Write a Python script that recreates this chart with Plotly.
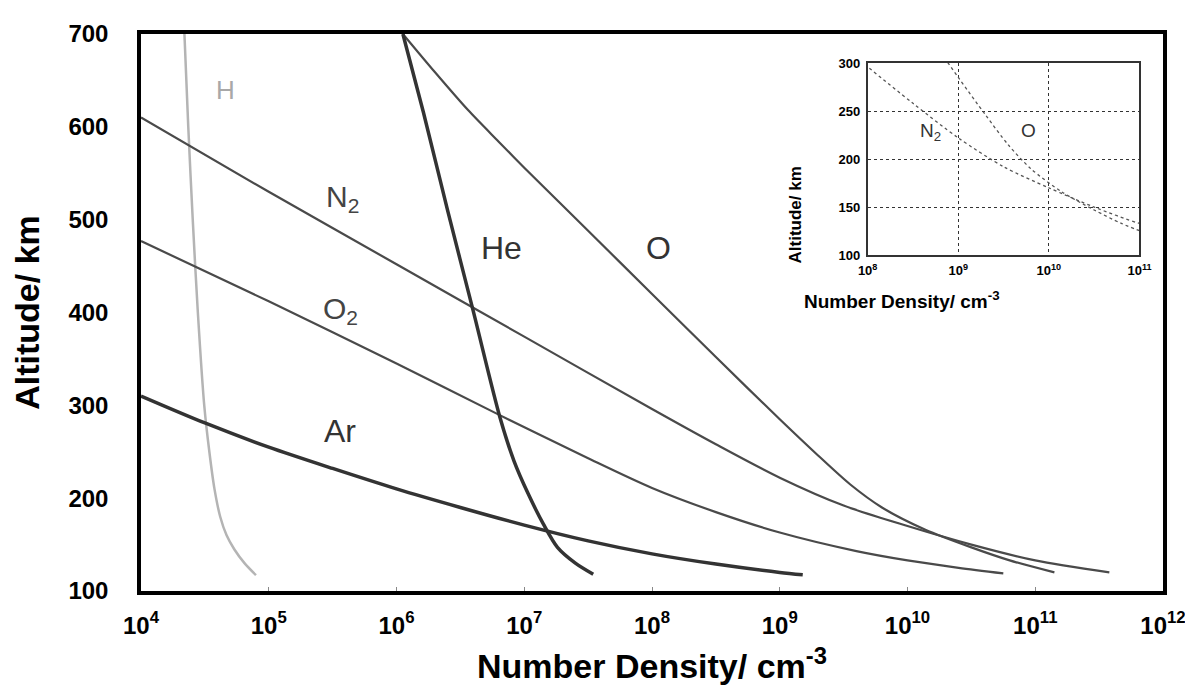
import plotly.graph_objects as go

# ---- data (log10 number density, altitude km) ----
h_logn = [4.34, 4.37, 4.405, 4.445, 4.495, 4.535, 4.575, 4.62, 4.67, 4.73, 4.81, 4.90]
h_alt = [700, 600, 500, 400, 300, 250, 210, 180, 160, 145, 130, 117]

he_logn = [6.05, 6.21, 6.40, 6.60, 6.81, 6.92, 7.03, 7.15, 7.26, 7.40, 7.54]
he_alt = [700, 616, 510, 402, 287, 240, 205, 172, 147, 130, 118]

n2_logn = [4.0, 5.0, 6.0, 7.0, 8.0, 8.5, 9.0, 9.5, 10.0, 10.5, 11.0, 11.58]
n2_alt = [610, 530, 452, 374, 296, 258, 222, 192, 170, 150, 133, 120]

o2_logn = [4.0, 5.0, 6.0, 6.8, 7.5, 8.0, 8.5, 9.0, 9.6, 10.0, 10.4, 10.75]
o2_alt = [477, 412, 345, 290, 243, 211, 185, 163, 143, 133, 125, 119]

ar_logn = [4.0, 4.5, 5.0, 5.5, 6.0, 6.5, 7.0, 7.5, 8.0, 8.5, 9.0, 9.18]
ar_alt = [310, 281, 255, 232, 210, 190, 171, 154, 140, 129, 120, 117.5]

o_logn = [6.05, 6.3, 6.56, 6.8, 7.0, 7.5, 8.0, 8.5, 9.0, 9.3, 9.55, 9.8, 10.14, 10.5, 10.8, 11.15]
o_alt = [700, 659, 618, 584, 556, 488, 420, 352, 285, 246, 215, 190, 166, 147, 133, 120]

x_tick_exp = [4, 5, 6, 7, 8, 9, 10, 11, 12]
y_ticks = [100, 200, 300, 400, 500, 600, 700]
inset_x_exp = [8, 9, 10, 11]
inset_y_ticks = [100, 150, 200, 250, 300]


def tolin(v):
    return [10 ** a for a in v]


FONT = "Liberation Sans, Arial, sans-serif"
fig = go.Figure()

main_series = [
    (h_logn, h_alt, "#b4b4b4", 2.5),
    (n2_logn, n2_alt, "#4a4a4a", 2.2),
    (o2_logn, o2_alt, "#4a4a4a", 2.2),
    (o_logn, o_alt, "#4a4a4a", 2.2),
    (ar_logn, ar_alt, "#333333", 3.5),
    (he_logn, he_alt, "#333333", 3.5),
]
for xs, ys, col, w in main_series:
    fig.add_trace(go.Scatter(x=tolin(xs), y=ys, mode="lines",
                             line=dict(color=col, width=w, shape="spline", smoothing=0.8),
                             showlegend=False, hoverinfo="skip", xaxis="x", yaxis="y"))

# inset
for xs, ys in [(n2_logn, n2_alt), (o_logn, o_alt)]:
    fig.add_trace(go.Scatter(x=tolin(xs), y=ys, mode="lines",
                             line=dict(color="#555555", width=1.3, dash="dot", shape="spline", smoothing=0.8),
                             showlegend=False, hoverinfo="skip", xaxis="x2", yaxis="y2"))

fig.update_layout(
    width=1193, height=700,
    margin=dict(l=133, r=38, t=21, b=117),
    paper_bgcolor="white", plot_bgcolor="white",
    font=dict(family=FONT, color="black"),
    xaxis=dict(type="log", range=[4, 12], domain=[0, 1],
               tickvals=[10 ** e for e in x_tick_exp],
               ticktext=[f"<b>10<sup>{e}</sup></b>" for e in x_tick_exp],
               tickfont=dict(size=24, family=FONT, color="black"),
               showgrid=False, zeroline=False,
               showline=True, linecolor="black", linewidth=3.5, mirror=True,
               ticks="inside", ticklen=4, tickcolor="#888", ticklabelstandoff=10,
               title=dict(text="<b>Number Density/ cm<sup>-3</sup></b>",
                          font=dict(size=34, family=FONT), standoff=18)),
    yaxis=dict(range=[100, 700], domain=[0, 1], tickvals=y_ticks,
               ticktext=[f"<b>{v}</b>" for v in y_ticks],
               tickfont=dict(size=24, family=FONT, color="black"),
               showgrid=False, zeroline=False,
               showline=True, linecolor="black", linewidth=3.5, mirror=True,
               ticks="", ticklabelstandoff=24,
               title=dict(text="<b>Altitude/ km</b>",
                          font=dict(size=34, family=FONT), standoff=22)),
    xaxis2=dict(type="log", range=[8, 11], domain=[0.711, 0.977], anchor="y2",
                tickvals=[10 ** e for e in inset_x_exp],
                ticktext=[f"<b>10<sup>{e}</sup></b>" for e in inset_x_exp],
                tickfont=dict(size=13, family=FONT, color="black"),
                showgrid=True, gridcolor="#333", griddash="dot", gridwidth=1.2,
                showline=True, linecolor="#333", linewidth=1.5, mirror=True,
                zeroline=False, ticks="", ticklabelstandoff=3),
    yaxis2=dict(range=[100, 300], domain=[0.603, 0.948], anchor="x2",
                tickvals=inset_y_ticks,
                ticktext=[f"<b>{v}</b>" for v in inset_y_ticks],
                tickfont=dict(size=13, family=FONT, color="black"),
                showgrid=True, gridcolor="#333", griddash="dot", gridwidth=1.2,
                showline=True, linecolor="#333", linewidth=1.5, mirror=True,
                zeroline=False, ticks="", ticklabelstandoff=3),
)

# inset axis titles
fig.add_annotation(x=0.8425, y=0.522, xref="paper", yref="paper",
                   text="<b>Number Density/ cm<sup>-3</sup></b>", showarrow=False,
                   font=dict(size=19, family=FONT, color="black"))
fig.add_annotation(x=0.640, y=0.765, xref="paper", yref="paper",
                   text="<b>Altitude/ km</b>", showarrow=False, textangle=-90,
                   font=dict(size=17, family=FONT, color="black"))

main_labels = [
    ("H", 4.66, 640, 26, "#a8a8a8"),
    ("N<sub>2</sub>", 5.58, 523, 30, "#444"),
    ("O<sub>2</sub>", 5.56, 402, 30, "#444"),
    ("Ar", 5.56, 272, 32, "#333"),
    ("He", 6.82, 470, 32, "#333"),
    ("O", 8.05, 470, 32, "#333"),
]
for t, lx, ly, sz, col in main_labels:
    fig.add_annotation(x=lx, y=ly, xref="x", yref="y", text=t, showarrow=False,
                       font=dict(size=sz, family=FONT, color=col))

inset_labels = [("N<sub>2</sub>", 8.69, 228), ("O", 9.77, 230)]
for t, lx, ly in inset_labels:
    fig.add_annotation(x=lx, y=ly, xref="x2", yref="y2", text=t, showarrow=False,
                       font=dict(size=19, family=FONT, color="#333"))

fig.write_html("out.html")
